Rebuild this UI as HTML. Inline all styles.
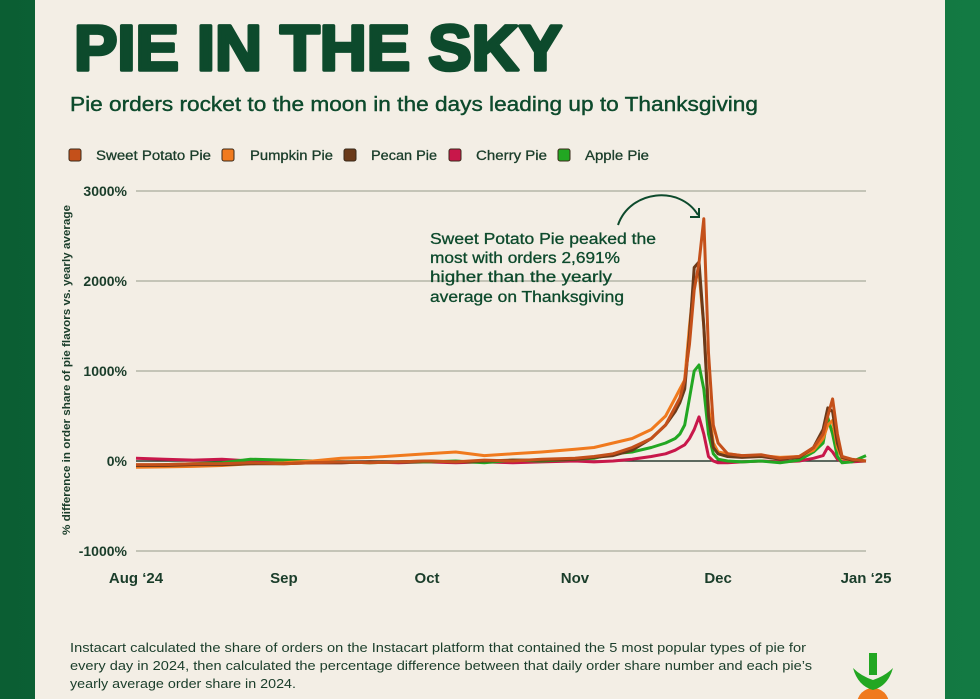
<!DOCTYPE html>
<html><head><meta charset="utf-8"><style>
html,body{margin:0;padding:0;width:980px;height:699px;overflow:hidden;background:#0e6a3a;}
svg{display:block;font-family:"Liberation Sans",sans-serif;}
</style></head><body>
<svg id="chart" width="980" height="699" viewBox="0 0 980 699">
<defs><linearGradient id="gb" x1="0" x2="1"><stop offset="0" stop-color="#0b5e33"/><stop offset="1" stop-color="#137a43"/></linearGradient></defs>
<rect x="0" y="0" width="980" height="699" fill="url(#gb)"/>
<rect x="35" y="0" width="910" height="699" fill="#f3eee5"/>
<text x="74" y="70" font-size="64" font-weight="bold" fill="#0d4a2c" stroke="#0d4a2c" stroke-width="3.5" stroke-linejoin="round" textLength="488" lengthAdjust="spacingAndGlyphs">PIE IN THE SKY</text>
<text x="70" y="111" font-size="20" fill="#0d4a2c" stroke="#0d4a2c" stroke-width="0.4" textLength="688" lengthAdjust="spacingAndGlyphs">Pie orders rocket to the moon in the days leading up to Thanksgiving</text>
<g id="legend"></g>
<g id="grid"></g>
<g id="yticks"></g>
<g id="xticks"></g>
<text transform="translate(70,370) rotate(-90)" text-anchor="middle" font-size="11" font-weight="bold" fill="#1a3d2a" textLength="330" lengthAdjust="spacingAndGlyphs">% difference in order share of pie flavors vs. yearly average</text>
<g id="series"></g>
<g fill="#0d4a2c" font-size="15.5" stroke="#0d4a2c" stroke-width="0.3">
<text x="430" y="244" textLength="226" lengthAdjust="spacingAndGlyphs">Sweet Potato Pie peaked the</text>
<text x="430" y="263" textLength="190" lengthAdjust="spacingAndGlyphs">most with orders 2,691%</text>
<text x="430" y="282" textLength="182" lengthAdjust="spacingAndGlyphs">higher than the yearly</text>
<text x="430" y="302" textLength="194" lengthAdjust="spacingAndGlyphs">average on Thanksgiving</text>
</g>
<path d="M618,225 C630,190 680,185 698,215" fill="none" stroke="#0d4a2c" stroke-width="2"/>
<path d="M690,217 L699,217 L699,208" fill="none" stroke="#0d4a2c" stroke-width="2"/>
<g fill="#1a3d2a" font-size="13">
<text x="70" y="652" textLength="736" lengthAdjust="spacingAndGlyphs">Instacart calculated the share of orders on the Instacart platform that contained the 5 most popular types of pie for</text>
<text x="70" y="670" textLength="742" lengthAdjust="spacingAndGlyphs">every day in 2024, then calculated the percentage difference between that daily order share number and each pie’s</text>
<text x="70" y="688" textLength="226" lengthAdjust="spacingAndGlyphs">yearly average order share in 2024.</text>
</g>
<g>
<circle cx="873" cy="704" r="16" fill="#f07a1e"/>
<rect x="869" y="653" width="8" height="22" fill="#22a722"/>
<path d="M853,668 Q858,686 873,690 Q888,686 893,668 Q885,676 873,680 Q861,676 853,668Z" fill="#22a722"/>
</g>
</svg>
<script>
const days=[0,6,12,18,24,31,37,43,49,55,61,67,73,79,85,92,96,100,104,108,111,113,114,115,116,117,118,119,120,121,122,124,127,131,135,139,142,144,145,146,147,148,150,153];
const sweetPotato=[-40,-40,-30,-30,-20,-30,-20,-10,-20,-10,0,-10,10,0,20,30,50,80,150,250,400,600,700,900,1300,1900,2200,2691,1200,400,200,80,60,70,30,50,150,300,500,690,300,50,20,0];
const pumpkin=[-70,-65,-60,-50,-30,-20,0,30,40,60,80,100,60,80,100,130,150,200,250,350,500,700,800,900,1500,2000,2100,1500,600,200,100,80,60,60,40,50,120,250,400,450,150,30,10,0];
const pecan=[-50,-50,-40,-40,-30,-30,-20,-20,-10,-10,0,-10,0,10,10,20,40,60,120,250,400,550,650,800,1400,2150,2211,1500,500,150,80,50,40,50,20,40,150,350,590,550,200,40,10,0];
const cherry=[30,20,10,20,0,-10,-20,-20,-10,-20,-10,-20,-10,-20,-10,0,-10,0,20,50,80,120,150,180,250,350,490,300,50,0,-20,-20,-10,0,-10,0,30,60,155,100,20,-10,-10,0];
const apple=[-50,-40,-30,-20,20,10,0,-10,-20,-10,-10,0,-20,10,0,20,30,80,100,150,200,250,300,400,700,1000,1067,800,300,80,20,0,-10,0,-20,10,100,200,480,300,50,-20,-10,60];
const seriesNames=["Sweet Potato Pie","Pumpkin Pie","Pecan Pie","Cherry Pie","Apple Pie"];
const yTicks=[3000,2000,1000,0,-1000];
const yTickLabels=["3000%","2000%","1000%","0%","-1000%"];
const xTickDays=[0,31,61,92,122,153];
const xTickLabels=["Aug ‘24","Sep","Oct","Nov","Dec","Jan ‘25"];

const NS="http://www.w3.org/2000/svg";
const X0=136,X1=866,Y0=461,PER=0.09;
function xs(d){return X0+(X1-X0)*d/153;}
function ys(v){return Y0-v*PER;}
function mk(tag,attrs,parent,txt){const e=document.createElementNS(NS,tag);for(const k in attrs)e.setAttribute(k,attrs[k]);if(txt!==undefined)e.textContent=txt;parent.appendChild(e);return e;}
const colors=["#c4501a","#f07a1e","#6b3a1a","#c8174a","#22a722"];
const data=[sweetPotato,pumpkin,pecan,cherry,apple];
const grid=document.getElementById('grid'),yt=document.getElementById('yticks'),xt=document.getElementById('xticks');
yTicks.forEach((v,i)=>{
  const l=mk('line',{x1:X0,x2:X1,y1:ys(v),y2:ys(v),stroke:v===0?'#2a3d33':'#b5b5a8','stroke-width':1.5},grid);
  
  
  const t=mk('text',{x:127,y:ys(v)+5,'text-anchor':'end','font-size':14,'font-weight':'bold',fill:'#1a3d2a'},yt,yTickLabels[i]);
  
  
});
xTickDays.forEach((d,i)=>{
  const t=mk('text',{x:xs(d),y:583,'text-anchor':'middle','font-size':15,'font-weight':'bold',fill:'#1a3d2a'},xt,xTickLabels[i]);
  
  
});
const sg=document.getElementById('series');
[3,4,1,2,0].forEach(si=>{
  const pts=days.map((d,i)=>xs(d).toFixed(1)+','+ys(data[si][i]).toFixed(1)).join(' ');
  const p=mk('polyline',{points:pts,fill:'none',stroke:colors[si],'stroke-width':3,'stroke-linejoin':'round'},sg);
  
  
});
const lg=document.getElementById('legend');
const swX=[69,222,344,449,558], txX=[96,250,371,476,585], txW=[115,83,66,71,64];
seriesNames.forEach((n,i)=>{
  const r=mk('rect',{x:swX[i],y:149,width:12,height:12,rx:2,fill:colors[i],stroke:'#3a2a1a','stroke-width':1},lg);
  
  
  const t=mk('text',{x:txX[i],y:160,'font-size':13.5,fill:'#1a3d2a',stroke:'#1a3d2a','stroke-width':0.3,textLength:txW[i],lengthAdjust:'spacingAndGlyphs'},lg,n);
  
  
});
</script>
</body></html>
